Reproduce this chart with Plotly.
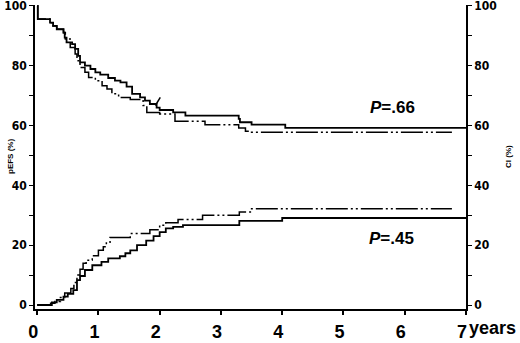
import plotly.graph_objects as go

# ---- data ----
efs_a_t = [0, 0.01, 0.21, 0.26, 0.32, 0.43, 0.45, 0.48, 0.57, 0.62, 0.67, 0.70, 0.78, 0.87, 0.95,
           1.03, 1.16, 1.27, 1.36, 1.46, 1.55, 1.68, 1.76, 1.84, 1.95, 2.0, 2.22, 2.42, 3.29, 3.31,
           3.5, 4.05, 7.0]
efs_a_v = [100, 95.6, 94.4, 93.3, 92.2, 91.1, 89.4, 87.8, 87.2, 85.6, 83.3, 81.1, 80.0, 78.9, 77.8,
           77.0, 75.9, 75.0, 74.4, 73.0, 70.6, 69.4, 68.3, 67.2, 66.0, 65.2, 64.4, 63.3, 62.2, 61.1,
           60.3, 59.2, 59.2]

efs_b_t = [0, 0.01, 0.21, 0.26, 0.32, 0.43, 0.46, 0.54, 0.62, 0.65, 0.70, 0.78, 0.84, 0.95, 1.06,
           1.14, 1.22, 1.33, 1.52, 1.73, 1.79, 2.0, 2.25, 2.74, 3.29, 3.4, 3.5, 6.77]
efs_b_v = [100, 95.6, 94.4, 93.3, 92.2, 91.0, 88.9, 86.1, 83.9, 81.7, 79.4, 77.8, 76.1, 75.0, 73.3,
           72.2, 70.6, 69.4, 68.7, 66.7, 64.4, 63.9, 61.4, 60.3, 59.2, 58.1, 57.8, 57.8]

ci_a_t = [0, 0.24, 0.32, 0.43, 0.5, 0.59, 0.65, 0.70, 0.78, 0.9, 1.05, 1.16, 1.35, 1.44, 1.52,
          1.63, 1.78, 1.9, 2.0, 2.1, 2.22, 2.38, 3.3, 4.0, 7.0]
ci_a_v = [0, 0.9, 1.7, 2.8, 3.7, 5.0, 8.3, 9.7, 11.7, 13.3, 14.4, 15.6, 16.3, 17.3, 18.3,
          20.0, 21.5, 23.0, 24.4, 25.6, 26.1, 26.7, 28.1, 29.1, 29.1]

ci_b_t = [0, 0.22, 0.29, 0.38, 0.45, 0.55, 0.6, 0.65, 0.7, 0.75, 0.8, 0.9, 1.0, 1.08, 1.13,
          1.19, 1.52, 1.84, 2.0, 2.1, 2.3, 2.7, 3.3, 3.5, 6.77]
ci_b_v = [0, 0.6, 1.2, 2.5, 4.0, 5.5, 7.5, 10.0, 12.0, 14.0, 15.0, 16.5, 18.3, 19.5, 21.0,
          22.6, 23.9, 25.2, 26.7, 27.5, 28.6, 30.0, 31.1, 32.2, 32.2]

censor_t = [1.93, 2.01]
censor_v = [66.7, 69.4]

x_ticks = [0, 1, 2, 3, 4, 5, 6, 7]
y_ticks = [0, 20, 40, 60, 80, 100]
p_labels = ["<i>P</i>=.66", "<i>P</i>=.45"]

DASHDOT = "22px,3px,2px,3px,2px,3px"

fig = go.Figure()
fig.add_trace(go.Scatter(x=efs_a_t, y=efs_a_v, mode="lines", line=dict(shape="hv", color="black", width=1.8),
                         showlegend=False, hoverinfo="skip"))
fig.add_trace(go.Scatter(x=efs_b_t, y=efs_b_v, mode="lines",
                         line=dict(shape="hv", color="black", width=1.5, dash=DASHDOT),
                         showlegend=False, hoverinfo="skip"))
fig.add_trace(go.Scatter(x=censor_t, y=censor_v, mode="lines", line=dict(color="black", width=1.5),
                         showlegend=False, hoverinfo="skip"))
fig.add_trace(go.Scatter(x=ci_a_t, y=ci_a_v, mode="lines", line=dict(shape="hv", color="black", width=1.8),
                         showlegend=False, hoverinfo="skip", yaxis="y2"))
fig.add_trace(go.Scatter(x=ci_b_t, y=ci_b_v, mode="lines",
                         line=dict(shape="hv", color="black", width=1.5, dash=DASHDOT),
                         showlegend=False, hoverinfo="skip", yaxis="y2"))

ytickfont = dict(family="Liberation Sans Narrow, DejaVu Sans Condensed, Liberation Sans", size=12,
                 color="black", weight="bold")
yrange = [-1.33, 100.3]

fig.update_layout(
    width=520, height=343,
    margin=dict(l=35, r=54, t=5, b=34, autoexpand=False),
    paper_bgcolor="white", plot_bgcolor="white",
    xaxis=dict(range=[-0.035, 7.0], tickvals=x_ticks, ticktext=[str(v) for v in x_ticks],
               showgrid=False, zeroline=False, showline=True, linecolor="black", linewidth=1.5,
               ticks="outside", ticklen=4, tickwidth=1.5, tickcolor="black", automargin=False,
               tickfont=dict(family="Liberation Sans, Arial", size=18, color="black", weight="bold"),
               ticklabelshift=-4, ticklabelstandoff=2, ticklabeloverflow="allow"),
    yaxis=dict(range=yrange, tickvals=y_ticks, showgrid=False, zeroline=False, showline=True,
               linecolor="black", linewidth=1.5, ticks="outside", ticklen=4, tickwidth=1.2,
               tickcolor="black", tickfont=ytickfont, ticklabeloverflow="allow", automargin=False,
               minor=dict(dtick=10, tick0=0, ticks="outside", ticklen=4, tickwidth=1.2, tickcolor="black")),
    yaxis2=dict(range=yrange, tickvals=y_ticks, overlaying="y", side="right", showgrid=False,
                zeroline=False, showline=True, linecolor="black", linewidth=1.5, ticks="outside",
                ticklen=4, tickwidth=1.2, tickcolor="black", tickfont=ytickfont, ticklabeloverflow="allow",
                automargin=False,
                minor=dict(dtick=10, tick0=0, ticks="outside", ticklen=4, tickwidth=1.2, tickcolor="black")),
)

pfont = dict(family="Liberation Sans, Arial", size=17, color="black", weight="bold")
fig.add_annotation(x=5.8, y=66, xref="x", yref="y", text=p_labels[0], showarrow=False,
                   font=pfont, xanchor="center", yanchor="middle")
fig.add_annotation(x=5.78, y=22.4, xref="x", yref="y", text=p_labels[1], showarrow=False,
                   font=pfont, xanchor="center", yanchor="middle")
fig.add_annotation(x=7.0, y=0, xref="x", yref="paper", text="years", showarrow=False,
                   font=dict(family="Liberation Sans, Arial", size=18, color="black", weight="bold"),
                   xanchor="left", yanchor="top", xshift=1, yshift=-7)

tfont = dict(family="Liberation Sans, Arial", size=8, color="black", weight="bold")
fig.add_annotation(x=-25 / 431, y=0.5, xref="paper", yref="paper", text="pEFS (%)", textangle=-90,
                   showarrow=False, font=tfont, xanchor="center", yanchor="middle")
fig.add_annotation(x=1 + 42 / 431, y=0.5, xref="paper", yref="paper", text="CI (%)", textangle=-90,
                   showarrow=False, font=tfont, xanchor="center", yanchor="middle")

fig.write_html("out.html", config={"displayModeBar": False},
               post_script="document.body.style.margin='0';document.body.style.padding='0';")
